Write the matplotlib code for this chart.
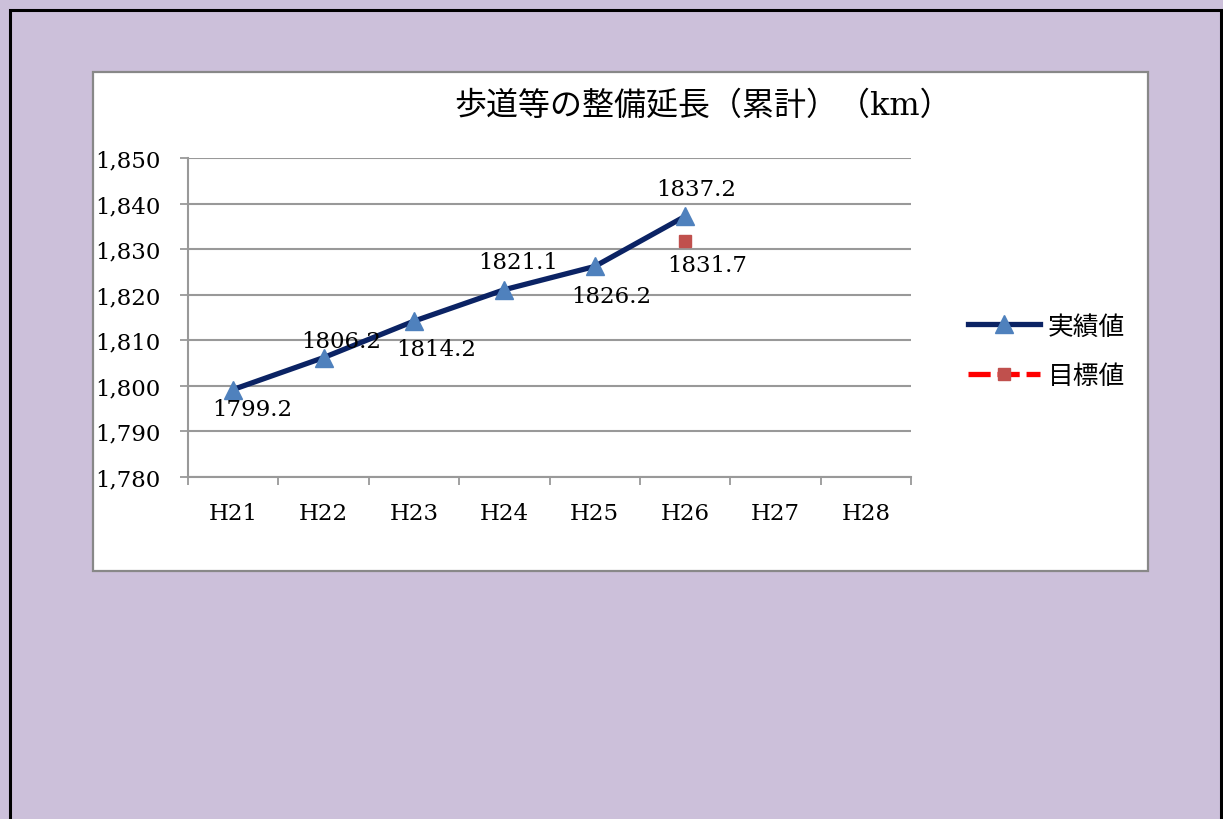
import matplotlib.pyplot as plt
from matplotlib.patches import Rectangle
from matplotlib.lines import Line2D
from matplotlib.ticker import FuncFormatter

# データ
years = ['H21', 'H22', 'H23', 'H24', 'H25', 'H26', 'H27', 'H28']
actual = [1799.2, 1806.2, 1814.2, 1821.1, 1826.2, 1837.2]
target_year = 'H26'
target = 1831.7

# ラベル位置 (points) - 見た目用
actual_offsets = [(14, -14), (13, 12), (16, -20), (10, 20), (12, -21), (8, 20)]
target_offset = (16, -17)

W, H = 1223, 820
fig = plt.figure(figsize=(W / 100, H / 100), dpi=100)
fig.patch.set_facecolor('#CCC0DA')

# 外枠 (黒)
fig.add_artist(Rectangle((10 / W, -0.05), (1221 - 10) / W, 1 - 11 / H + 0.05,
                         transform=fig.transFigure, fill=False,
                         edgecolor='black', linewidth=2.2))
# グラフエリア (白)
fig.add_artist(Rectangle((93 / W, 1 - 572 / H), (1148 - 93) / W, (572 - 73) / H,
                         transform=fig.transFigure, facecolor='white',
                         edgecolor='#888888', linewidth=1.6, zorder=0))

ax = fig.add_axes([188 / W, 1 - 478 / H, (911 - 188) / W, (478 - 159) / H])
ax.set_facecolor('white')

xs = list(range(len(years)))
ax.plot(xs[:len(actual)], actual, color='#0B2364', linewidth=3.8,
        marker='^', markersize=13, markerfacecolor='#4F81BD',
        markeredgecolor='#4F81BD', zorder=3)
tx = years.index(target_year)
ax.plot([tx], [target], linestyle='none', marker='s', markersize=8.5,
        markerfacecolor='#C0504D', markeredgecolor='#C0504D', zorder=3)

num_font = 'DejaVu Serif'
fs = 16.5
for x, v, (dx, dy) in zip(xs, actual, actual_offsets):
    ax.annotate(f'{v:.1f}', (x, v), xytext=(dx, dy), textcoords='offset points',
                ha='center', va='center', fontsize=fs, family=num_font, zorder=4)
ax.annotate(f'{target:.1f}', (tx, target), xytext=target_offset,
            textcoords='offset points', ha='center', va='center',
            fontsize=fs, family=num_font, zorder=4)

ax.set_xlim(-0.5, len(years) - 0.5)
ax.set_ylim(1780, 1850)
ax.set_yticks(range(1780, 1851, 10))
ax.yaxis.set_major_formatter(FuncFormatter(lambda v, p: f'{int(v):,}'))
ax.grid(axis='y', color='#999999', linewidth=1.5)
ax.set_axisbelow(True)

ax.set_xticks([i - 0.5 for i in range(len(years) + 1)])
ax.set_xticklabels([])
ax.set_xticks(xs, minor=True)
ax.set_xticklabels(years, minor=True)
ax.tick_params(axis='x', which='major', length=6, width=1.3, color='#999999')
ax.tick_params(axis='x', which='minor', length=0, pad=18, labelsize=fs)
ax.tick_params(axis='y', length=6, width=1.3, color='#999999', pad=14, labelsize=fs)
for lab in ax.get_xticklabels(minor=True) + ax.get_yticklabels():
    lab.set_family(num_font)

for s in ['top', 'right']:
    ax.spines[s].set_visible(False)
for s in ['left', 'bottom']:
    ax.spines[s].set_color('#999999')
    ax.spines[s].set_linewidth(1.5)

fig.text(703 / W, 1 - 106 / H, '歩道等の整備延長（累計）（km）', ha='center', va='center',
         fontsize=23, family=['DejaVu Serif', 'Noto Sans CJK JP'])

handles = [
    Line2D([], [], color='#0B2364', linewidth=3.8, marker='^', markersize=13,
           markerfacecolor='#4F81BD', markeredgecolor='#4F81BD'),
    Line2D([], [], color='#FF0000', linewidth=3.8, linestyle=(0, (4.2, 1.3)), marker='s',
           markersize=8.5, markerfacecolor='#C0504D', markeredgecolor='#C0504D'),
]
fig.legend(handles, ['実績値', '目標値'], loc='center left',
           bbox_to_anchor=(945 / W, 1 - 352 / H), frameon=False,
           prop={'family': 'Noto Sans CJK JP', 'size': 18.5},
           handlelength=2.8, handletextpad=0.3, labelspacing=0.9)

fig.savefig('out.png', dpi=100, facecolor=fig.get_facecolor())
